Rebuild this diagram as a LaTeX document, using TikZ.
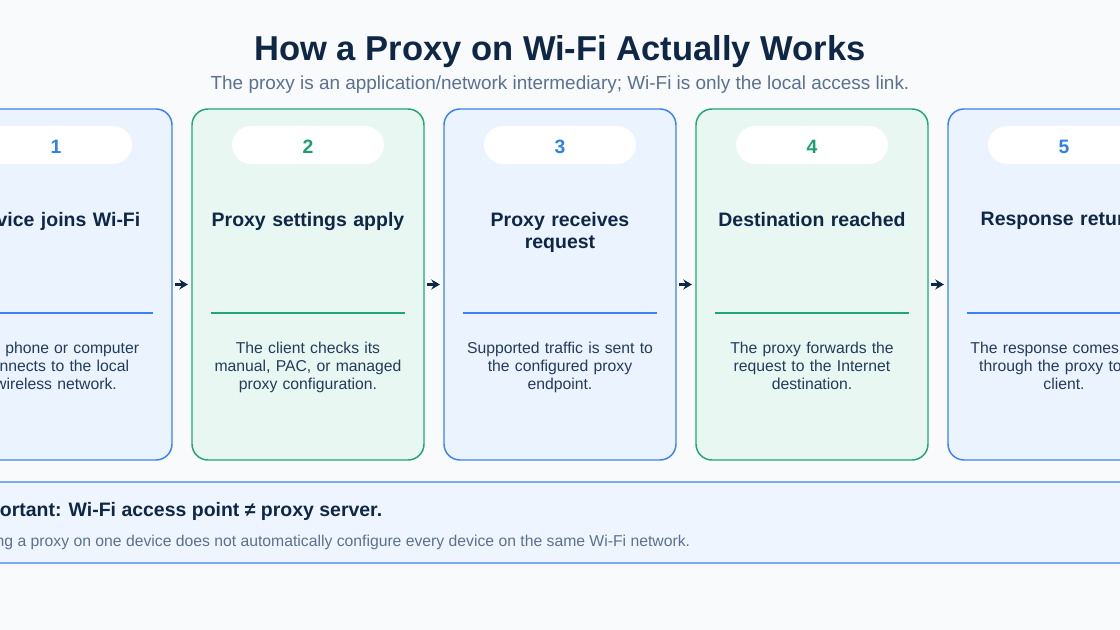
\documentclass[tikz,border=0pt]{standalone}
\usepackage{fontspec}
\setmainfont{Liberation Sans}
\usetikzlibrary{arrows.meta}
\definecolor{pagebg}{HTML}{F8FAFC}
\definecolor{titlenavy}{HTML}{0F2747}
\definecolor{subgrey}{HTML}{5B7190}
\definecolor{bodytext}{HTML}{243B5A}
\definecolor{blueline}{HTML}{3B82F6}
\definecolor{bluefill}{HTML}{EAF3FE}
\definecolor{bluenum}{HTML}{2F7FE8}
\definecolor{greenline}{HTML}{22A673}
\definecolor{greenfill}{HTML}{E8F7F1}
\definecolor{greennum}{HTML}{1E9E6E}
\definecolor{notefill}{HTML}{EEF5FE}
\newcommand{\fsz}[2]{\fontsize{#1}{#2}\selectfont}

\begin{document}
\begin{tikzpicture}[x=0.75pt,y=-0.75pt,
  card/.style={draw=#1line,fill=#1fill,line width=1.1pt,rounded corners=12pt,
    minimum width=174pt,minimum height=263.25pt,inner sep=0pt},
  numpill/.style={fill=white,rounded corners=14.25pt,minimum width=114pt,
    minimum height=28.5pt,inner sep=0pt,text height=10.4pt,text depth=0pt,
    text=#1num,font=\fsz{14.5}{17}\bfseries},
  cardtitle/.style={anchor=north,text width=160pt,align=center,inner sep=0pt,
    text=titlenavy,font=\fsz{14.6}{16.5}\bfseries},
  cardbody/.style={anchor=north,text width=165pt,align=center,inner sep=0pt,
    text=bodytext,font=\fsz{11.8}{13.5}},
  divider/.style={draw=#1line,line width=0.9pt},
  flow/.style={-{Stealth[length=6.5pt,width=7.5pt]},draw=titlenavy,line width=2.1pt,
    shorten <=2pt,shorten >=2.5pt},
  notebox/.style={draw=blueline,fill=notefill,line width=1.1pt,rounded corners=6pt,
    minimum width=930pt,minimum height=60.75pt,inner sep=0pt}]
  \useasboundingbox (0,0) rectangle (1120,630);
  \clip (0,0) rectangle (1120,630);
  \fill[pagebg] (0,0) rectangle (1120,630);

  \node[text=titlenavy,font=\fsz{25.9}{30}\bfseries] (title) at (560,52)
    {How a Proxy on Wi-Fi Actually Works};
  \node[text=subgrey,font=\fsz{14.2}{17}] (subtitle) at (560,85)
    {The proxy is an application/network intermediary; Wi-Fi is only the local access link.};

  \foreach \i/\cx/\col/\ttl/\bdy in {
    1/56/blue/{Device joins Wi-Fi}/{The phone or computer\\connects to the local\\wireless network.},
    2/308/green/{Proxy settings apply}/{The client checks its\\manual, PAC, or managed\\proxy configuration.},
    3/560/blue/{Proxy receives\\request}/{Supported traffic is sent to\\the configured proxy\\endpoint.},
    4/812/green/{Destination reached}/{The proxy forwards the\\request to the Internet\\destination.},
    5/1064/blue/{Response returns}/{The response comes back\\through the proxy to the\\client.}}{
    \node[card=\col] (c\i) at (\cx,284.5) {};
    \node[numpill=\col] (n\i) at (\cx,145) {\raisebox{-1.5pt}{\i}};
    \node[cardtitle] (t\i) at (\cx,212) {\ttl};
    \draw[divider=\col] (\cx-97,313) -- (\cx+97,313);
    \node[cardbody] (b\i) at (\cx,342) {\bdy};
  }
  \foreach \a/\b in {1/2,2/3,3/4,4/5}{
    \draw[flow] (c\a) -- (c\b);
  }

  \node[notebox] (note) at (560,522.5) {};
  \node[anchor=west,inner sep=0pt,text=titlenavy,font=\fsz{14.6}{17}\bfseries]
    (notehead) at (-35,511) {Important: Wi-Fi access point ≠ proxy server.};
  \node[anchor=west,inner sep=0pt,text=subgrey,font=\fsz{11.8}{13}]
    (notetext) at (-36,542)
    {Setting a proxy on one device does not automatically configure every device on the same Wi-Fi network.};
\end{tikzpicture}
\end{document}
